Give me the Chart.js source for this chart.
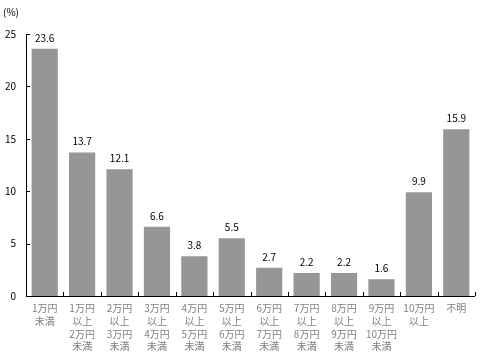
<!DOCTYPE html>
<html>
<head>
<meta charset="utf-8">
<script src="https://cdn.jsdelivr.net/npm/chart.js@4"></script>
<style>
  body { margin: 0; background: #fff; }
  #wrap { width: 480px; height: 354px; }
</style>
</head>
<body>
<div id="wrap"><canvas id="c" width="480" height="354"></canvas></div>
<script>
// categories (multi-line labels)
var categories = [
    ['1万円', '未満'],
    ['1万円', '以上', '2万円', '未満'],
    ['2万円', '以上', '3万円', '未満'],
    ['3万円', '以上', '4万円', '未満'],
    ['4万円', '以上', '5万円', '未満'],
    ['5万円', '以上', '6万円', '未満'],
    ['6万円', '以上', '7万円', '未満'],
    ['7万円', '以上', '8万円', '未満'],
    ['8万円', '以上', '9万円', '未満'],
    ['9万円', '以上', '10万円', '未満'],
    ['10万円', '以上'],
    ['不明']
];
var shares = [23.6, 13.7, 12.1, 6.6, 3.8, 5.5, 2.7, 2.2, 2.2, 1.6, 9.9, 15.9];
var yTicks = [0, 5, 10, 15, 20, 25];

var FONT = "'Noto Sans CJK JP', 'DejaVu Sans', sans-serif";

// value labels, inward ticks and unit label
var extras = {
    id: 'extras',
    afterDatasetsDraw: function (chart) {
        var ctx = chart.ctx;
        var area = chart.chartArea;
        var ys = chart.scales.y;
        ctx.save();
        ctx.fillStyle = '#000';
        ctx.font = '10px ' + FONT;
        ctx.textAlign = 'center';
        ctx.textBaseline = 'alphabetic';
        chart.getDatasetMeta(0).data.forEach(function (bar, i) {
            ctx.fillText(shares[i].toFixed(1), bar.x, bar.y - 7);
        });
        // unit
        ctx.textAlign = 'left';
        ctx.textBaseline = 'middle';
        ctx.fillText('(%)', 3, 12);
        // axes
        ctx.strokeStyle = '#000';
        ctx.lineWidth = 1;
        ctx.beginPath();
        ctx.moveTo(area.left + 0.5, area.top);
        ctx.lineTo(area.left + 0.5, area.bottom + 0.5);
        ctx.lineTo(area.right, area.bottom + 0.5);
        yTicks.forEach(function (v) {
            var y = Math.round(ys.getPixelForValue(v)) + 0.5;
            ctx.moveTo(area.left, y);
            ctx.lineTo(area.left + 4, y);
        });
        var n = categories.length;
        for (var i = 1; i <= n; i++) {
            var x = Math.round(area.left + (area.right - area.left) * i / n) + 0.5;
            ctx.moveTo(x, area.bottom);
            ctx.lineTo(x, area.bottom - 4);
        }
        ctx.stroke();
        ctx.restore();
    }
};

new Chart(document.getElementById('c'), {
    type: 'bar',
    data: {
        labels: categories,
        datasets: [{
            data: shares,
            backgroundColor: '#969696',
            barPercentage: 0.7,
            categoryPercentage: 1.0
        }]
    },
    options: {
        responsive: false,
        animation: false,
        layout: { padding: { top: 34, right: 5, left: 0, bottom: 0 } },
        plugins: { legend: { display: false }, tooltip: { enabled: false } },
        scales: {
            x: {
                grid: { display: false, drawTicks: false },
                border: { display: false },
                ticks: {
                    color: '#808080',
                    font: { family: FONT, size: 10, lineHeight: 1.27 },
                    maxRotation: 0,
                    autoSkip: false,
                    padding: 6
                },
                afterFit: function (s) { s.height = 58; }
            },
            y: {
                min: 0,
                max: 25,
                grid: { display: false, drawTicks: false },
                border: { display: false },
                ticks: {
                    stepSize: 5,
                    color: '#000',
                    font: { family: FONT, size: 10 },
                    padding: 10
                },
                afterFit: function (s) { s.width = 26; }
            }
        }
    },
    plugins: [extras]
});
</script>
</body>
</html>
